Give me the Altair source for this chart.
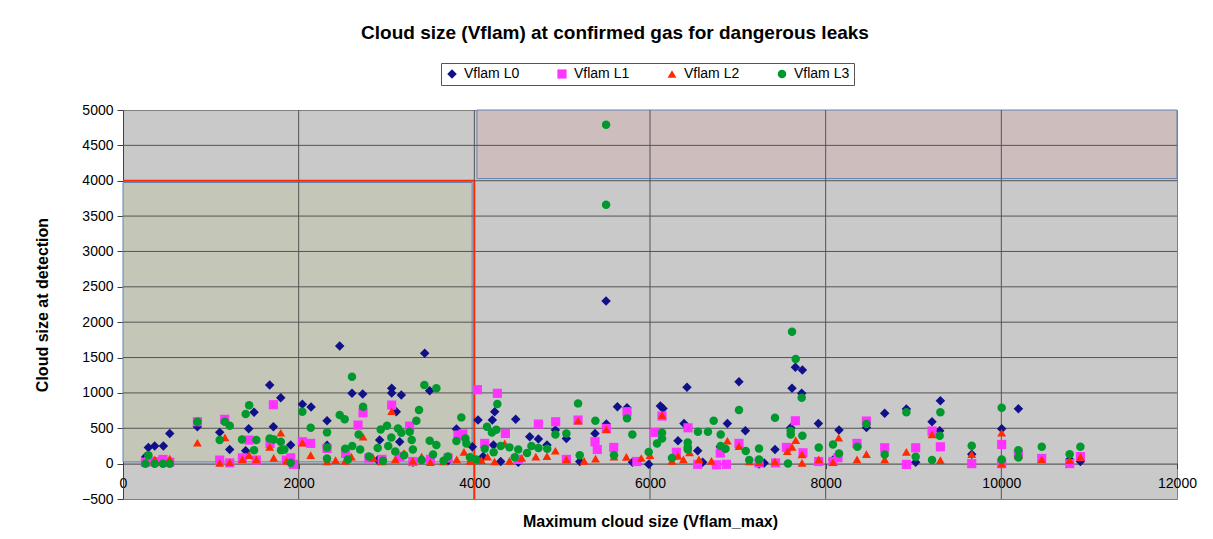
import altair as alt
import pandas as pd

FONT = "Liberation Sans"

# ---------------- series ----------------
series_names = ["Vflam L0", "Vflam L1", "Vflam L2", "Vflam L3"]
series_colors = ["#10108a", "#ff33ff", "#ff2a00", "#00992e"]
series_shapes = ["diamond", "square", "triangle-up", "circle"]
series_sizes = [90, 72, 95, 85]

l0_x = [258, 289, 361, 460, 532, 847, 1101, 1215, 1397, 1431, 1492, 1670, 1712, 1796, 1909,
        2042, 2141, 2323, 2323, 2467, 2607, 2729, 2900, 2922, 3059, 3059, 3112, 3150, 3169,
        3300, 3435, 3492, 3700, 3796, 3978, 4042, 4100, 4205, 4218, 4232, 4300, 4471, 4500,
        4630, 4729, 4827, 4923, 5048, 5200, 5374, 5500, 5503, 5629, 5738, 5800, 5985, 6118,
        6148, 6319, 6387, 6421, 6543, 6600, 6800, 6881, 7013, 7086, 7241, 7300, 7423, 7602,
        7617, 7655, 7727, 7735, 7917, 8083, 8152, 8464, 8672, 8919, 9025, 9211, 9298, 9306,
        9663, 10004, 10194, 10778, 10900]
l0_y = [96, 229, 248, 248, 427, 521, 442, 201, 181, 493, 725, 1112, 521, 932, 262,
        838, 800, 606, 260, 1664, 994, 984, 50, 333, 1065, 1000, 734, 310, 970,
        20, 1560, 1031, 40, 489, 240, 616, 100, 616, 262, 734, 30, 626, 20,
        380, 347, 262, 474, 357, 30, 427, 2300, 559, 804, 790, 20, -10, 814,
        781, 323, 569, 1079, 182, 20, 240, 569, 1159, 465, -7, 10, 201, 507,
        1065, 1362, 994, 1324, 569, 50, 474, 512, 711, 772, 20, 592, 465, 889,
        134, 493, 776, 60, 30]

l1_x = [255, 290, 361, 455, 532, 847, 1101, 1158, 1215, 1359, 1436, 1518, 1674, 1712, 1860,
        1909, 1940, 2042, 2137, 2323, 2535, 2676, 2733, 2800, 2950, 3059, 3150, 3264, 3300,
        3500, 3700, 3814, 3870, 4035, 4118, 4262, 4354, 4500, 4729, 4926, 5048, 5181, 5374,
        5400, 5503, 5587, 5738, 5850, 6054, 6137, 6300, 6433, 6543, 6756, 6800, 6870, 7013,
        7241, 7430, 7553, 7655, 7742, 7921, 8083, 8140, 8357, 8464, 8672, 8919, 9025, 9211,
        9306, 9663, 10004, 10004, 10194, 10460, 10778, 10900]
l1_y = [20, 30, 30, 59, 20, 592, 50, 626, 11, 82, 333, 50, 286, 833, 50,
        82, -10, 309, 286, 215, 144, 545, 719, 80, 60, 828, 100, 531, 30,
        60, 80, 404, 420, 1045, 286, 994, 427, 60, 559, 592, 60, 616, 309,
        200, 498, 229, 734, 30, 441, 673, 160, 507, -10, -17, 150, -10, 286,
        10, 10, 229, 606, 153, 30, 30, 85, 286, 602, 224, -11, 224, 460,
        238, 0, 271, 0, 140, 73, 0, 100]

l2_x = [258, 361, 532, 847, 1101, 1161, 1215, 1359, 1436, 1518, 1670, 1716, 1796, 1860, 2042,
        2137, 2323, 2420, 2530, 2600, 2733, 2850, 2950, 3059, 3100, 3200, 3300, 3400, 3500,
        3650, 3800, 3882, 3950, 4080, 4150, 4230, 4346, 4400, 4540, 4700, 4827, 4923, 5048,
        5181, 5250, 5380, 5503, 5590, 5731, 5900, 6000, 6137, 6250, 6319, 6380, 6450, 6557,
        6700, 6881, 7013, 7130, 7241, 7423, 7564, 7617, 7659, 7731, 7731, 7921, 8083, 8148,
        8357, 8464, 8672, 8919, 9211, 9306, 9663, 10004, 10004, 10194, 10460, 10778, 10900]
l2_y = [20, 60, 70, 295, 10, 371, 20, 60, 120, 60, 238, 82, 436, 40, 295,
        120, 30, 50, 40, 100, 380, 80, 30, 743, 60, 150, 40, 100, 20,
        30, 60, 167, 40, 50, 100, 30, 286, 40, 80, 100, 106, 182, 60,
        606, 40, 70, 484, 100, 96, 80, 120, 687, 40, 110, 60, 160, 60,
        40, 323, 248, 30, 20, 30, 177, 238, 333, 130, 10, 60, 20, 366,
        60, 134, 60, 167, 413, 50, 134, 436, 0, 120, 59, 50, 96]

l3_x = [255, 289, 361, 455, 532, 847, 1101, 1158, 1215, 1355, 1397, 1436, 1492, 1518, 1670,
        1716, 1796, 1800, 1837, 1909, 2042, 2137, 2323, 2323, 2323, 2467, 2524, 2530, 2560,
        2607, 2610, 2683, 2700, 2733, 2800, 2900, 2934, 2960, 3006, 3020, 3055, 3100, 3131,
        3169, 3200, 3264, 3287, 3300, 3340, 3370, 3400, 3431, 3492, 3530, 3568, 3568, 3650,
        3700, 3796, 3852, 3898, 3910, 3950, 4020, 4118, 4144, 4200, 4220, 4250, 4262, 4300,
        4400, 4460, 4500, 4600, 4650, 4730, 4830, 4923, 5048, 5181, 5200, 5378, 5500, 5500,
        5590, 5738, 5799, 5985, 6080, 6137, 6137, 6250, 6430, 6430, 6430, 6546, 6660, 6725,
        6805, 6805, 6860, 7013, 7090, 7130, 7241, 7241, 7423, 7571, 7602, 7602, 7617, 7659,
        7727, 7735, 7921, 8083, 8152, 8361, 8464, 8672, 8919, 9025, 9211, 9298, 9306, 9663,
        10004, 10004, 10194, 10194, 10460, 10778, 10900]
l3_y = [0, 120, 0, 0, 0, 592, 333, 592, 535, 342, 701, 824, 191, 333, 357,
        342, 309, 191, 201, 11, 734, 507, 442, 229, 72, 687, 626, 210, 60,
        1229, 250, 413, 200, 804, 100, 220, 484, 40, 535, 250, 371, 170, 498,
        436, 120, 450, 333, 200, 606, 757, 50, 1112, 324, 130, 1065, 262, 40,
        100, 319, 654, 357, 286, 90, 60, 210, 521, 440, 160, 480, 843, 250,
        230, 90, 200, 150, 250, 220, 210, 413, 427, 852, 120, 606, 3660, 4790,
        120, 640, 413, 165, 286, 436, 357, 80, 300, 200, 230, 450, 450, 606,
        413, 248, 210, 758, 180, 50, 215, 59, 649, 3, 465, 413, 1866, 1480,
        932, 394, 229, 271, 144, 238, 559, 130, 725, 96, 50, 394, 725, 252,
        790, 59, 191, 88, 238, 134, 238]

# ---------------- axes / decorations ----------------
x_ticks = [0, 2000, 4000, 6000, 8000, 10000, 12000]
y_ticks = [-500, 0, 500, 1000, 1500, 2000, 2500, 3000, 3500, 4000, 4500, 5000]
x_grid = [2000, 4000, 6000, 8000, 10000]
y_grid = [500, 1000, 1500, 2000, 2500, 3000, 3500, 4000, 4500]

zone_x = [0, 4030]
zone_x2 = [3975, 12000]
zone_y = [25, 4030]
zone_y2 = [3975, 5000]
zone_fill = ["#c4c6b7", "#cdbdbd"]

limit_x = [0, 4000]
limit_x2 = [4000, 4000]
limit_y = [4000, -500]
limit_y2 = [4000, 4000]

# ---------------- tables ----------------
frames = []
for name, xs_, ys_ in zip(series_names, [l0_x, l1_x, l2_x, l3_x], [l0_y, l1_y, l2_y, l3_y]):
    frames.append(pd.DataFrame({"x": xs_, "y": ys_, "series": name}))
points = pd.concat(frames, ignore_index=True)
points["order"] = points["series"].map({n: i for i, n in enumerate(series_names)})

zones = pd.DataFrame({"x": zone_x, "x2": zone_x2, "y": zone_y, "y2": zone_y2, "fill": zone_fill})
vgrid = pd.DataFrame({"x": x_grid})
hgrid = pd.DataFrame({"y": y_grid})
limits = pd.DataFrame({"x": limit_x, "x2": limit_x2, "y": limit_y, "y2": limit_y2})

xs = alt.Scale(domain=[0, 12000], nice=False, zero=False)
ys = alt.Scale(domain=[-500, 5000], nice=False, zero=False)

x_axis = alt.Axis(values=x_ticks, format="d", grid=False, offset=-35.4,
                  labelOverlap=False, labelFlush=False,
                  labelFont=FONT, labelFontSize=14, labelColor="black", labelPadding=8,
                  tickSize=5, tickColor="#404040", domainColor="#404040",
                  title="Maximum cloud size (Vflam_max)", titleFont=FONT, titleFontSize=16,
                  titleFontWeight="bold", titleColor="black", titleY=50)
y_axis = alt.Axis(values=y_ticks, format="d", grid=False,
                  labelOverlap=False, labelFlush=False,
                  labelFont=FONT, labelFontSize=14, labelColor="black", labelPadding=4,
                  tickSize=6, tickColor="#404040", domainColor="#404040",
                  title="Cloud size at detection", titleFont=FONT, titleFontSize=16,
                  titleFontWeight="bold", titleColor="black", titlePadding=31)

zone_layer = alt.Chart(zones).mark_rect(stroke="#6283b3", strokeWidth=1).encode(
    x=alt.X("x:Q", scale=xs, axis=x_axis),
    x2="x2:Q",
    y=alt.Y("y:Q", scale=ys, axis=y_axis),
    y2="y2:Q",
    fill=alt.Fill("fill:N", scale=None),
)

vgrid_layer = alt.Chart(vgrid).mark_rule(color="#555555", strokeWidth=1).encode(
    x=alt.X("x:Q", scale=xs, axis=x_axis))
hgrid_layer = alt.Chart(hgrid).mark_rule(color="#555555", strokeWidth=1).encode(
    y=alt.Y("y:Q", scale=ys, axis=y_axis))

limit_layer = alt.Chart(limits).mark_rule(color="#ff2a00", strokeWidth=2).encode(
    x=alt.X("x:Q", scale=xs, axis=x_axis), x2="x2:Q",
    y=alt.Y("y:Q", scale=ys, axis=y_axis), y2="y2:Q")

legend = alt.Legend(orient="none", legendX=318, legendY=-47, direction="horizontal",
                    title=None, strokeColor="#555555", fillColor="white", padding=4,
                    labelFont=FONT, labelFontSize=14, labelColor="black",
                    symbolSize=70, columnPadding=35, labelOffset=5)

point_layer = alt.Chart(points).mark_point(filled=True, opacity=1).encode(
    x=alt.X("x:Q", scale=xs, axis=x_axis),
    y=alt.Y("y:Q", scale=ys, axis=y_axis),
    color=alt.Color("series:N", scale=alt.Scale(domain=series_names, range=series_colors), legend=legend),
    shape=alt.Shape("series:N", scale=alt.Scale(domain=series_names, range=series_shapes), legend=legend),
    size=alt.Size("series:N", scale=alt.Scale(domain=series_names, range=series_sizes), legend=None),
    order=alt.Order("order:Q"),
)

chart = alt.layer(zone_layer, hgrid_layer, vgrid_layer, limit_layer, point_layer).properties(
    width=1054,
    height=389,
    title=alt.TitleParams("Cloud size (Vflam) at confirmed gas for dangerous leaks",
                          font=FONT, fontSize=19, fontWeight="bold", color="black",
                          anchor="middle", dx=-35, offset=20),
    autosize=alt.AutoSizeParams(type="none"),
    padding={"left": 115, "top": 102, "right": 28, "bottom": 32},
).configure_view(
    fill="#c9c9c9", stroke="#808080", strokeWidth=1
).configure_axis(
    labelOverlap=False, labelFlush=False
)

chart.save("out.html", embed_options={"renderer": "svg", "actions": False})
